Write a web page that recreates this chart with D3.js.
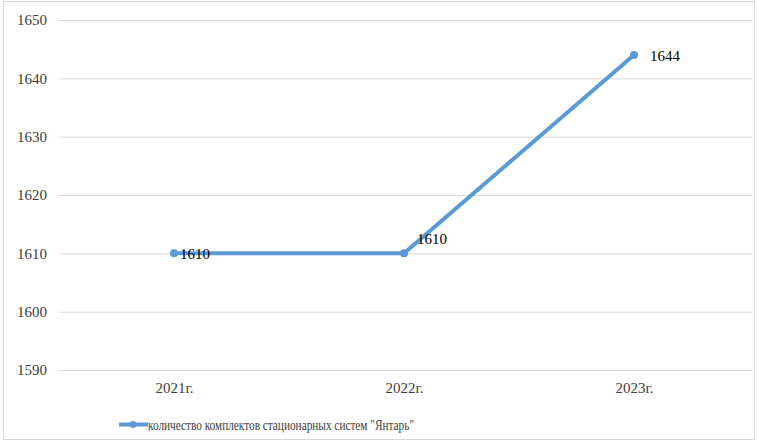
<!DOCTYPE html>
<html><head><meta charset="utf-8">
<script src="https://cdn.jsdelivr.net/npm/d3@7"></script>
</head><body style="margin:0"><svg id="c" width="757" height="441"></svg>
<script>
const categories = ["2021г.", "2022г.", "2023г."];
const values = [1610, 1610, 1644];
const yTicks = [1590, 1600, 1610, 1620, 1630, 1640, 1650];
const seriesName = "количество комплектов стационарных систем \"Янтарь\"";
const labelOffsets = [[6, 1], [13, -14], [16, 1]];

const svg = d3.select("#c");
const color = "#5b9bd5";
svg.append("rect").attr("x",3.5).attr("y",1.5).attr("width",751).attr("height",438).attr("fill","#fff").attr("stroke","#d9d9d9");

const x = d3.scalePoint().domain(categories).range([174, 634]);
const y = d3.scaleLinear().domain([1590, 1650]).range([370, 20]);

svg.append("g").selectAll("line").data(yTicks).join("line")
  .attr("x1",59).attr("x2",752).attr("y1",d=>y(d)+0.5).attr("y2",d=>y(d)+0.5)
  .attr("stroke","#d9d9d9").attr("stroke-width",1);

function styleText(sel, size, fill){
  sel.attr("font-family", "Liberation Serif").style("font-family", "'Liberation Serif'")
     .attr("font-size", size).style("font-size", size+"px").attr("fill", fill);
}

const ga = svg.append("g").attr("transform","translate(47,0)")
  .call(d3.axisLeft(y).tickValues(yTicks).tickSize(0).tickPadding(0).tickFormat(d3.format("d")));
ga.select(".domain").remove();
styleText(ga, 15, "#404040");
styleText(ga.selectAll("text"), 15, "#404040");

const gx = svg.append("g").attr("transform","translate(0,382)")
  .call(d3.axisBottom(x).tickSize(0).tickPadding(0));
gx.select(".domain").remove();
styleText(gx, 15, "#404040");
styleText(gx.selectAll("text"), 15, "#404040");

const data = categories.map((c,i)=>({c, v: values[i], o: labelOffsets[i]}));
svg.append("path").datum(data)
  .attr("d", d3.line().x(d=>x(d.c)).y(d=>y(d.v)))
  .attr("fill","none").attr("stroke",color).attr("stroke-width",4).attr("stroke-linejoin","round").attr("stroke-linecap","round");
svg.selectAll(".pt").data(data).join("circle").attr("class","pt")
  .attr("cx",d=>x(d.c)).attr("cy",d=>y(d.v)).attr("r",4).attr("fill",color);
const lbl = svg.selectAll(".lbl").data(data).join("text").attr("class","lbl")
  .attr("x",d=>x(d.c)+d.o[0]).attr("y",d=>y(d.v)+d.o[1]+5)
  .text(d=>d.v);
styleText(lbl, 15, "#000");

const lg = svg.append("g");
lg.append("line").attr("x1",119).attr("x2",148).attr("y1",424.5).attr("y2",424.5).attr("stroke",color).attr("stroke-width",4);
lg.append("circle").attr("cx",133).attr("cy",424.5).attr("r",3.5).attr("fill",color);
const lt = lg.append("text").attr("x",148).attr("y",430).text(seriesName)
  .attr("textLength", 266).attr("lengthAdjust", "spacingAndGlyphs");
styleText(lt, 15, "#404040");
</script></body></html>
